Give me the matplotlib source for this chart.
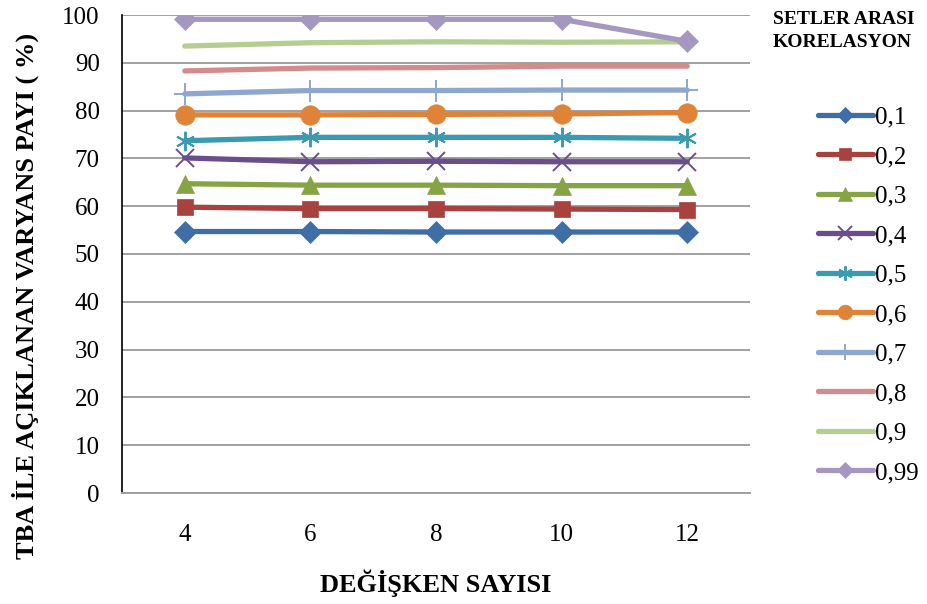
import numpy as np
import matplotlib.pyplot as plt

plt.rcParams["font.family"] = ["Liberation Serif", "DejaVu Serif"]

variables = ["4", "6", "8", "10", "12"]
correlations = ["0,1", "0,2", "0,3", "0,4", "0,5", "0,6", "0,7", "0,8", "0,9", "0,99"]

r01 = [54.7, 54.7, 54.6, 54.6, 54.6]
r02 = [59.8, 59.5, 59.5, 59.4, 59.3]
r03 = [64.7, 64.4, 64.4, 64.3, 64.3]
r04 = [70.1, 69.3, 69.4, 69.3, 69.3]
r05 = [73.7, 74.4, 74.4, 74.4, 74.2]
r06 = [79.1, 79.1, 79.2, 79.3, 79.6]
r07 = [83.5, 84.2, 84.2, 84.3, 84.3]
r08 = [88.3, 88.9, 89.0, 89.3, 89.3]
r09 = [93.5, 94.2, 94.4, 94.3, 94.4]
r099 = [99.1, 99.1, 99.1, 99.1, 94.5]

series = [r01, r02, r03, r04, r05, r06, r07, r08, r09, r099]

colors = ["#3F6EA7", "#A8423F", "#86A444", "#6A4E8C", "#3A9AB0",
          "#DF8338", "#8DA7CF", "#D38C8B", "#B4CE92", "#A697C0"]
markers = ["D", "s", "^", "x", "*", "o", "+", None, None, "D"]
sizes = [11, 12, 13, 13, 14, 14, 16, 0, 0, 11]

fig = plt.figure(figsize=(9.28, 6.04), dpi=100)
ax = fig.add_axes([122 / 928, 1 - 493 / 604, 628 / 928, 478 / 604])

x = np.arange(len(variables))
handles = []
for vals, lab, c, m, ms in zip(series, correlations, colors, markers, sizes):
    thin = m in ("x", "*", "+")
    if m == "*":
        # asterisk made of six thin spokes
        m = (6, 2, 0)
    line, = ax.plot(x, vals, color=c, linewidth=3.8, marker=m, markersize=ms,
                    markeredgewidth=1.4 if thin else 0.5,
                    markeredgecolor=c, markerfacecolor=c, label=lab,
                    solid_capstyle="round", zorder=3)
    handles.append(line)

ax.set_xlim(-0.5, len(variables) - 0.5)
ax.set_ylim(0, 100)
ax.set_yticks(np.arange(0, 101, 10))
ax.set_xticks(x)
ax.set_xticklabels(variables)
ax.tick_params(axis="both", length=0, labelsize=18)
ax.tick_params(axis="x", pad=22)
ax.tick_params(axis="y", pad=16)
ax.grid(axis="y", color="#A0A0A0", linewidth=1.4, zorder=0)
ax.set_axisbelow(True)

for side in ("top", "right"):
    ax.spines[side].set_visible(False)
ax.spines["left"].set_color("black")
ax.spines["left"].set_linewidth(1.2)
ax.spines["bottom"].set_color("#A0A0A0")
ax.spines["bottom"].set_linewidth(1.4)

fig.text(25 / 928, 1 - 296 / 604, "TBA İLE AÇIKLANAN VARYANS PAYI ( %)",
         rotation=90, ha="center", va="center", fontsize=19, fontweight="bold")
fig.text(436 / 928, 1 - 583 / 604, "DEĞİŞKEN SAYISI",
         ha="center", va="center", fontsize=19, fontweight="bold")

fig.text(773 / 928, 1 - 31 / 604, "SETLER ARASI\nKORELASYON",
         ha="left", va="center", fontsize=14, fontweight="bold", linespacing=1.4)

fig.legend(handles=handles, loc="upper left",
           bbox_to_anchor=(808 / 928, 1 - 96 / 604), frameon=False,
           fontsize=18, handlelength=2.2, handletextpad=0.1, markerscale=0.75,
           labelspacing=0.68, borderaxespad=0)

fig.savefig("out.png", dpi=100)
